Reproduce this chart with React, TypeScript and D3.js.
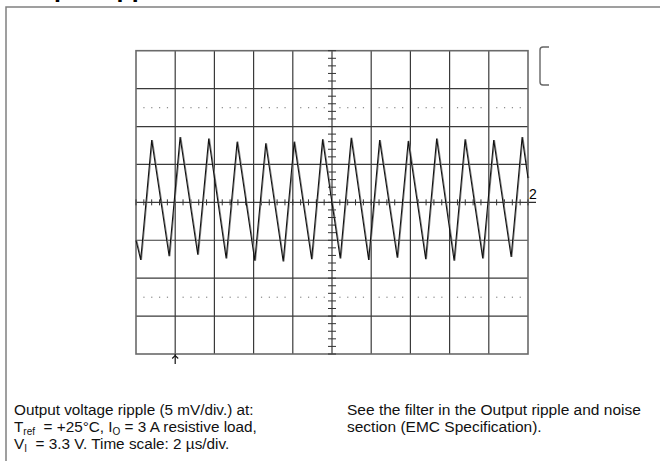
import React from "react";
import * as d3 from "d3";

// Oscilloscope settings: 2 µs/div horizontally, 5 mV/div vertically
const timeDomain: [number, number] = [0, 20];
const voltDomain: [number, number] = [-20, 20];
const xDivisions = 10;
const yDivisions = 8;
const subDivisions = 5;

// Waveform vertices (time in µs, ripple in mV)
const startPoint = { t: 0, v: -5.0 };
const troughTimes = [0.24, 1.69, 3.15, 4.6, 6.06, 7.51, 8.96, 10.42, 11.87, 13.33, 14.78, 16.23, 17.69, 19.14];
const troughValues = [-7.6, -7.1, -6.9, -7.4, -7.7, -7.8, -7.5, -7.4, -7.6, -7.3, -7.5, -7.7, -7.4, -7.2];
const peakTimes = [0.8, 2.25, 3.71, 5.16, 6.62, 8.07, 9.52, 10.98, 12.43, 13.89, 15.34, 16.79, 18.25, 19.7];
const peakValues = [8.2, 8.6, 8.4, 8.0, 7.8, 8.0, 8.3, 8.5, 8.2, 8.1, 8.4, 8.3, 8.2, 8.6];
const endPoint = { t: 20, v: 3.2 };

// Rows with dotted minor marks (mV)
const dottedRows = [12.5, -12.5];

const channelLabel = "2";
const titleText = "Output ripple";
const captionLeft = [
  [{ t: "Output voltage ripple (5 mV/div.) at:" }],
  [{ t: "T" }, { t: "ref", sub: true }, { t: "  = +25°C, I" }, { t: "O", sub: true }, { t: " = 3 A resistive load," }],
  [{ t: "V" }, { t: "I", sub: true }, { t: "  = 3.3 V. Time scale: 2 µs/div." }],
];
const captionRight = ["See the filter in the Output ripple and noise", "section (EMC Specification)."];

const W = 668;
const H = 461;
const gridLeft = 136;
const gridRight = 528;
const gridTop = 50.7;
const gridBottom = 354;

export default function App() {
  const x = d3.scaleLinear().domain(timeDomain).range([gridLeft, gridRight]);
  const y = d3.scaleLinear().domain(voltDomain).range([gridBottom, gridTop]);

  const pts: { t: number; v: number }[] = [startPoint];
  troughTimes.forEach((t, i) => {
    pts.push({ t, v: troughValues[i] });
    pts.push({ t: peakTimes[i], v: peakValues[i] });
  });
  pts.push(endPoint);
  pts.sort((a, b) => a.t - b.t);

  const line = d3
    .line<{ t: number; v: number }>()
    .x((d) => x(d.t))
    .y((d) => y(d.v));

  const tStep = (timeDomain[1] - timeDomain[0]) / xDivisions;
  const vStep = (voltDomain[1] - voltDomain[0]) / yDivisions;
  const xMajors = d3.range(xDivisions + 1).map((i) => timeDomain[0] + i * tStep);
  const yMajors = d3.range(yDivisions + 1).map((j) => voltDomain[0] + j * vStep);
  const xMinors = d3.range(xDivisions * subDivisions + 1).map((k) => timeDomain[0] + (k * tStep) / subDivisions);
  const yMinors = d3.range(yDivisions * subDivisions + 1).map((k) => voltDomain[0] + (k * vStep) / subDivisions);

  const tMid = (timeDomain[0] + timeDomain[1]) / 2;
  const x0 = x(tMid);
  const y0 = y(0);

  const dots: { cx: number; cy: number }[] = [];
  dottedRows.forEach((v) => {
    xMinors.forEach((t, k) => {
      if (k % subDivisions !== 0) dots.push({ cx: x(t), cy: y(v) });
    });
  });

  const font = "'Liberation Sans', Arial, Helvetica, sans-serif";
  const fs = 15.3;
  const base = 415;
  const lh = 17;

  return (
    <svg width={W} height={H} style={{ position: "absolute", left: 0, top: 0, background: "#fff" }}>
      <rect x={0} y={0} width={W} height={H} fill="#fff" />
      <text x={11} y={-3} fontFamily={font} fontWeight="bold" fontSize={25} fill="#000">
        {titleText}
      </text>
      <path d={`M6,${H} L6,7 L660,7`} fill="none" stroke="#808080" strokeWidth={1.5} />

      {/* grid */}
      {xMajors.slice(1, -1).map((t, i) => (
        <line key={"vx" + i} x1={x(t)} x2={x(t)} y1={gridTop} y2={gridBottom} stroke="#3a3a3a" strokeWidth={1.2} />
      ))}
      {yMajors.slice(1, -1).map((v, i) => (
        <line key={"hy" + i} x1={gridLeft} x2={gridRight} y1={y(v)} y2={y(v)} stroke="#3a3a3a" strokeWidth={1.2} />
      ))}
      <line x1={gridRight} x2={gridRight + 8} y1={y0} y2={y0} stroke="#222" strokeWidth={1.2} />
      <rect x={gridLeft} y={gridTop} width={gridRight - gridLeft} height={gridBottom - gridTop} fill="none" stroke="#6a6a6a" strokeWidth={1.6} />

      {dots.map((d, i) => (
        <rect key={"d" + i} x={d.cx - 0.5} y={d.cy - 0.5} width={1.2} height={1.2} fill="#888" />
      ))}

      {xMinors.map((t, i) => (
        <line key={"tx" + i} x1={x(t)} x2={x(t)} y1={y0 - 3} y2={y0 + 3} stroke="#333" strokeWidth={1} />
      ))}
      {yMinors.map((v, i) => (
        <line key={"ty" + i} x1={x0 - 4} x2={x0 + 4} y1={y(v)} y2={y(v)} stroke="#333" strokeWidth={1} />
      ))}

      {/* waveform */}
      <path d={line(pts) || ""} fill="none" stroke="#8a8a8a" strokeWidth={1.1} transform="translate(0.8,0)" />
      <path d={line(pts) || ""} fill="none" stroke="#111" strokeWidth={1.1} />

      <text x={gridRight + 1} y={y0 - 3} fontFamily={font} fontSize={14} fill="#000">
        {channelLabel}
      </text>

      {/* trigger marker */}
      <line x1={x(2)} x2={x(2)} y1={gridBottom} y2={gridBottom + 10} stroke="#111" strokeWidth={1.2} />
      <path d={`M${x(2) - 3},${gridBottom + 4.5} L${x(2)},${gridBottom + 1.5} L${x(2) + 3},${gridBottom + 4.5}`} fill="none" stroke="#111" strokeWidth={1.1} />

      {/* right bracket */}
      <path d="M549,47 H543 Q540,47 540,50 V82 Q540,85 543,85 H549" fill="none" stroke="#666" strokeWidth={1.4} />

      {/* captions */}
      {captionLeft.map((parts, li) => (
        <text key={"cl" + li} x={14} y={base + li * lh} fontFamily={font} fontSize={fs} fill="#111">
          {parts.map((p: any, pi) =>
            p.sub ? (
              <tspan key={pi} fontSize={10} dy={2.5}>
                {p.t}
              </tspan>
            ) : (
              <tspan key={pi} dy={pi > 0 && parts[pi - 1] && (parts[pi - 1] as any).sub ? -2.5 : 0} style={{ whiteSpace: "pre" }}>
                {p.t}
              </tspan>
            )
          )}
        </text>
      ))}
      {captionRight.map((s, li) => (
        <text key={"cr" + li} x={347} y={base + li * lh} fontFamily={font} fontSize={15.5} fill="#111">
          {s}
        </text>
      ))}
    </svg>
  );
}
